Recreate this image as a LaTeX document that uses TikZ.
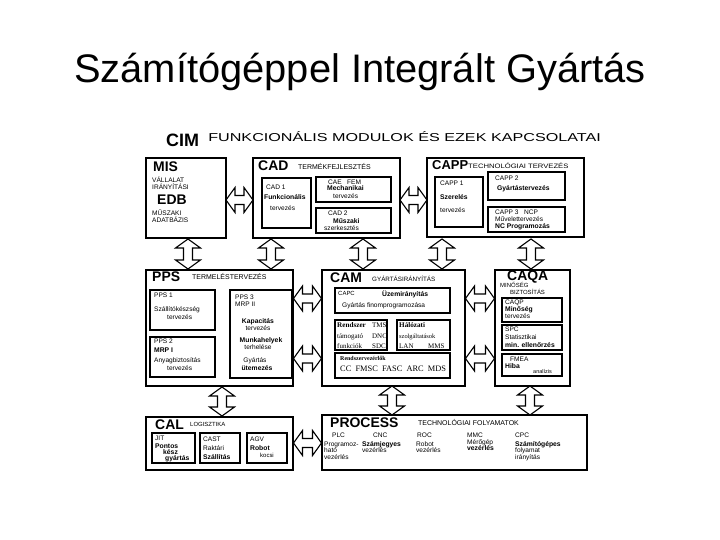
\documentclass[tikz,border=0pt]{standalone}
\usepackage{fontspec}
\setmainfont{Liberation Sans}
\newfontfamily\serf{Liberation Serif}
\usetikzlibrary{fit}
\begin{document}
\begin{tikzpicture}[x=1bp,y=-1bp,
  box/.style={draw,line width=1.4bp,inner sep=0pt,fit={#1}},
  ibox/.style={draw,line width=1.1bp,inner sep=0pt,fit={#1}},
  tx/.style={anchor=base west,inner sep=0pt,font=\fontsize{6.6}{7}\selectfont},
  tb/.style={anchor=base west,inner sep=0pt,font=\bfseries\fontsize{6.8}{7}\selectfont},
  sub/.style={anchor=base west,inner sep=0pt,font=\fontsize{7}{7}\selectfont},
  big/.style={anchor=base west,inner sep=0pt,font=\bfseries\fontsize{14}{14}\selectfont},
  sr/.style={anchor=base west,inner sep=0pt,font=\serf\bfseries\fontsize{7.2}{7}\selectfont},
  srn/.style={anchor=base west,inner sep=0pt,font=\serf\fontsize{7}{7}\selectfont},
  pics/dbl/.style={code={
    \draw[line width=1.1bp,fill=white,line join=miter]
      (-#1,0) -- (-#1+9,-12.5) -- (-#1+9,-4.5) -- (#1-9,-4.5) -- (#1-9,-12.5) -- (#1,0)
      -- (#1-9,12.5) -- (#1-9,4.5) -- (-#1+9,4.5) -- (-#1+9,12.5) -- cycle;
  }},
]
\useasboundingbox[fill=white] (0,0) rectangle (720,540);

% title
\node[anchor=base,inner sep=0pt,font=\fontsize{40}{40}\selectfont] (title) at (360,83) {Számítógéppel Integrált Gyártás};
\node[anchor=base west,inner sep=0pt,font=\bfseries\fontsize{18}{18}\selectfont] (cim) at (166,147) {CIM};
\node[anchor=base west,inner sep=0pt,font=\fontsize{11.5}{12}\selectfont,xscale=1.41] (cimt) at (208,142) {FUNKCIONÁLIS MODULOK ÉS EZEK KAPCSOLATAI};

% ---------- row 1 boxes
\node[box={(146,158) (226,238)}] (mis) {};
\node[box={(253,158) (400,238)}] (cad) {};
\node[box={(427,158) (584,237)}] (capp) {};
% ---------- row 2 boxes
\node[box={(146,270) (293,386)}] (pps) {};
\node[box={(322,270) (465,386)}] (cam) {};
\node[box={(495,270) (570,386)}] (caqa) {};
% ---------- row 3 boxes
\node[box={(146,417) (293,470)}] (cal) {};
\node[box={(322,415) (587,470)}] (process) {};

% ---------- double block arrows between the modules
\pic (a1) at (239.5,200) {dbl=13.5};
\pic (a2) at (413.5,200) {dbl=13.5};
\pic[rotate=90] (a3) at (188,254) {dbl=15};
\pic[rotate=90] (a4) at (271,254) {dbl=15};
\pic[rotate=90] (a5) at (363,254) {dbl=15};
\pic[rotate=90] (a6) at (442,254) {dbl=15};
\pic[rotate=90] (a7) at (531,254) {dbl=15};
\pic (a8) at (307.5,298.5) {dbl=14};
\pic (a9) at (307.5,358.5) {dbl=14};
\pic (a10) at (480,298.5) {dbl=14.5};
\pic (a11) at (480,358.5) {dbl=14.5};
\pic[rotate=90] (a12) at (222,401.5) {dbl=14.5};
\pic[rotate=90] (a13) at (392,400.5) {dbl=14.5};
\pic[rotate=90] (a14) at (530,400.5) {dbl=14.5};
\pic (a15) at (307.5,443) {dbl=14};

% ---------- MIS
\node[big] (mist) at (153,172) {MIS};
\node[tx] (mis1) at (152,182.5) {VÁLLALAT};
\node[tx] (mis2) at (152,189.5) {IRÁNYÍTÁSI};
\node[big] (edb) at (157,205) {EDB};
\node[tx] (mis3) at (152,215.5) {MŰSZAKI};
\node[tx] (mis4) at (152,222.5) {ADATBÁZIS};

% ---------- CAD
\node[big] (cadt) at (258,171) {CAD};
\node[sub] (cads) at (298,169.5) {TERMÉKFEJLESZTÉS};
\node[ibox={(262,178) (311,228)}] (cad1) {};
\node[tx] (cad1a) at (266,189.5) {CAD 1};
\node[tb] (cad1b) at (264,199.5) {Funkcionális};
\node[tx] (cad1c) at (270,210.5) {tervezés};
\node[ibox={(316,177) (391,202)}] (cae) {};
\node[tx] (caea) at (328,184.5) {CAE \ \ FEM};
\node[tb] (caeb) at (327,191) {Mechanikai};
\node[tx] (caec) at (333,199) {tervezés};
\node[ibox={(316,208) (391,233)}] (cad2) {};
\node[tx] (cad2a) at (328,215.5) {CAD 2};
\node[tb] (cad2b) at (333,223.5) {Műszaki};
\node[tx] (cad2c) at (324,230.5) {szerkesztés};

% ---------- CAPP
\node[big,font=\bfseries\fontsize{13}{13}\selectfont] (cappt) at (432,170) {CAPP};
\node[sub,font=\fontsize{6.4}{7}\selectfont,xscale=1.2] (capps) at (468,169) {TECHNOLÓGIAI TERVEZÉS};
\node[ibox={(435,177) (483,227)}] (capp1) {};
\node[tx] (capp1a) at (440,185.5) {CAPP 1};
\node[tb] (capp1b) at (440,199.5) {Szerelés};
\node[tx] (capp1c) at (440,212.5) {tervezés};
\node[ibox={(488,172) (565,200)}] (capp2) {};
\node[tx] (capp2a) at (495,180.5) {CAPP 2};
\node[tb] (capp2b) at (497,190.5) {Gyártástervezés};
\node[ibox={(488,207) (565,232)}] (capp3) {};
\node[tx] (capp3a) at (495,214.5) {CAPP 3 \ \ NCP};
\node[tx] (capp3b) at (495,221.5) {Művelettervezés};
\node[tb] (capp3c) at (495,229) {NC Programozás};

% ---------- PPS
\node[big] (ppst) at (152,282) {PPS};
\node[sub] (ppss) at (192,279.5) {TERMELÉSTERVEZÉS};
\node[ibox={(150,290) (215,330)}] (pps1) {};
\node[tx] (pps1a) at (154,297.5) {PPS 1};
\node[tx] (pps1b) at (154,311.5) {Szállítókészség};
\node[tx] (pps1c) at (167,319.5) {tervezés};
\node[ibox={(150,337) (215,377)}] (pps2) {};
\node[tx] (pps2a) at (154,343) {PPS 2};
\node[tb] (pps2b) at (154,352.5) {MRP I};
\node[tx] (pps2c) at (154,362.5) {Anyagbiztosítás};
\node[tx] (pps2d) at (167,370.5) {tervezés};
\node[ibox={(230,290) (292,378)}] (pps3) {};
\node[tx] (pps3a) at (235,299.5) {PPS 3};
\node[tx] (pps3b) at (235,306) {MRP II};
\node[tb,anchor=base] (pps3c) at (258,323.5) {Kapacitás};
\node[tx,anchor=base] (pps3d) at (258,330.5) {tervezés};
\node[tb,anchor=base] (pps3e) at (261,342.5) {Munkahelyek};
\node[tx,anchor=base] (pps3f) at (258,349.5) {terhelése};
\node[tx,anchor=base] (pps3g) at (255,362.5) {Gyártás};
\node[tb,anchor=base] (pps3h) at (257,370.5) {ütemezés};

% ---------- CAM
\node[big] (camt) at (330,283) {CAM};
\node[sub,font=\fontsize{6.3}{7}\selectfont] (cams) at (372,281.5) {GYÁRTÁSIRÁNYÍTÁS};
\node[ibox={(335,288) (450,313)}] (capc) {};
\node[tx,font=\fontsize{6}{7}\selectfont] (capca) at (338,295.5) {CAPC};
\node[tb] (capcb) at (382,296.5) {Üzemirányítás};
\node[tx] (capcc) at (342,307.5) {Gyártás finomprogramozása};
\node[ibox={(335,320) (387,350)}] (rtam) {};
\node[sr] (rtama) at (337,327.5) {Rendszer};
\node[srn] (rtamb) at (372,327.5) {TMS};
\node[srn] (rtamc) at (337,338.5) {támogató};
\node[srn] (rtamd) at (372,338.5) {DNC};
\node[srn] (rtame) at (337,348.5) {funkciók};
\node[srn] (rtamf) at (372,348.5) {SDC};
\node[ibox={(397,320) (450,350)}] (hal) {};
\node[sr] (hala) at (399,327.5) {Hálózati};
\node[srn,font=\serf\fontsize{6.4}{7}\selectfont] (halb) at (399,338.5) {szolgáltatások};
\node[srn] (halc) at (399,348.5) {LAN};
\node[srn] (hald) at (428,348.5) {MMS};
\node[ibox={(335,353) (450,378)}] (rvez) {};
\node[sr,font=\serf\bfseries\fontsize{6}{7}\selectfont] (rveza) at (340,360.5) {Rendszervezérlők};
\node[sr,font=\serf\fontsize{8.4}{8}\selectfont] (rvezb) at (340,371.5) {CC \ FMSC \ FASC \ ARC \ MDS};

% ---------- CAQA
\node[big] (caqat) at (507,281) {CAQA};
\node[sub,font=\fontsize{6}{7}\selectfont] (caqas) at (500,287.5) {MINŐSÉG};
\node[sub,font=\fontsize{6}{7}\selectfont] (caqat2) at (510,294.5) {BIZTOSÍTÁS};
\node[ibox={(502,298) (562,322)}] (caqp) {};
\node[tx] (caqpa) at (505,304.5) {CAQP};
\node[tb] (caqpb) at (505,311.5) {Minőség};
\node[tx] (caqpc) at (505,318.5) {tervezés};
\node[ibox={(502,325) (562,350)}] (spc) {};
\node[tx] (spca) at (505,331.5) {SPC};
\node[tx] (spcb) at (505,339.5) {Statisztikai};
\node[tb] (spcc) at (505,347.5) {min. ellenőrzés};
\node[ibox={(502,354) (562,376)}] (fmea) {};
\node[tx] (fmeaa) at (510,361) {FMEA};
\node[tb] (fmeab) at (505,368) {Hiba};
\node[tx,font=\fontsize{5.5}{6}\selectfont] (fmeac) at (533,373.5) {analízis};

% ---------- CAL
\node[big] (calt) at (155,429.5) {CAL};
\node[sub,font=\fontsize{6}{7}\selectfont] (cals) at (190,426.5) {LOGISZTIKA};
\node[ibox={(152,433) (195,463)}] (jit) {};
\node[tx] (jita) at (155,440.5) {JIT};
\node[tb] (jitb) at (155,448.5) {Pontos};
\node[tb] (jitc) at (163,454.5) {kész};
\node[tb] (jitd) at (165,460.5) {gyártás};
\node[ibox={(200,433) (240,463)}] (cast) {};
\node[tx] (casta) at (203,441.5) {CAST};
\node[tx] (castb) at (203,450.5) {Raktári};
\node[tb] (castc) at (203,459.5) {Szállítás};
\node[ibox={(247,433) (287,463)}] (agv) {};
\node[tx] (agva) at (250,441.5) {AGV};
\node[tb] (agvb) at (250,450) {Robot};
\node[tx,font=\fontsize{6}{6}\selectfont] (agvc) at (260,457.5) {kocsi};

% ---------- PROCESS
\node[big] (proct) at (330,427) {PROCESS};
\node[sub] (procs) at (418,425.5) {TECHNOLÓGIAI FOLYAMATOK};
\node[tx] (plc) at (332,437.5) {PLC};
\node[tx] (cnc) at (373,437.5) {CNC};
\node[tx] (roc) at (417,437.5) {ROC};
\node[tx] (mmc) at (467,437.5) {MMC};
\node[tx] (cpc) at (515,437.5) {CPC};
\node[tx] (plca) at (324,446.5) {Programoz-};
\node[tx] (plcb) at (324,452.5) {ható};
\node[tx] (plcc) at (324,459.5) {vezérlés};
\node[tb] (cnca) at (362,446.5) {Számjegyes};
\node[tx] (cncb) at (362,452.5) {vezérlés};
\node[tx] (roca) at (416,446.5) {Robot};
\node[tx] (rocb) at (416,452.5) {vezérlés};
\node[tx] (mmca) at (467,444.5) {Mérőgép};
\node[tb] (mmcb) at (467,450.5) {vezérlés};
\node[tb] (cpca) at (515,446.5) {Számítógépes};
\node[tx] (cpcb) at (515,452.5) {folyamat};
\node[tx] (cpcc) at (515,459.5) {irányítás};
\end{tikzpicture}
\end{document}
